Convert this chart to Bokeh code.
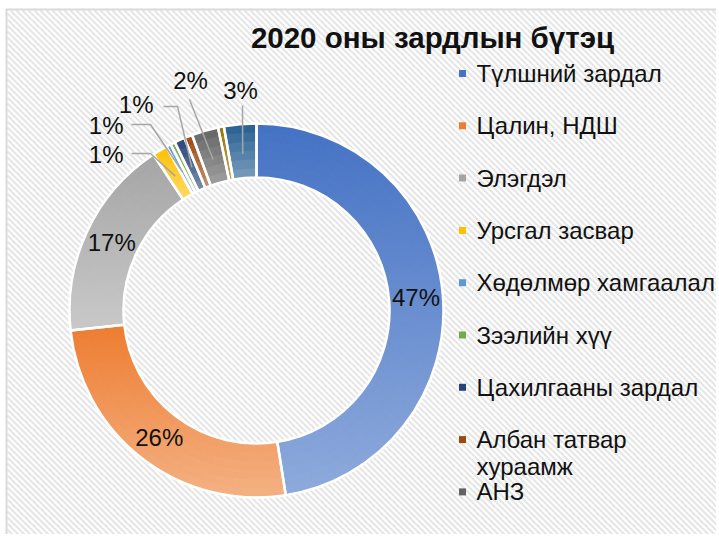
import numpy as np
from bokeh.plotting import figure
from bokeh.models import Range1d
from bokeh.core.properties import value
from bokeh.embed import file_html
from bokeh.resources import INLINE

# ---------------- data ----------------
TITLE = "2020 оны зардлын бүтэц"
categories = ["Түлшний зардал", "Цалин, НДШ", "Элэгдэл", "Урсгал засвар",
              "Хөдөлмөр хамгаалал", "Зээлийн хүү", "Цахилгааны зардал",
              "Албан татвар хураамж", "АНЗ", "", ""]
values = [47.5, 25.8, 17.4, 1.3, 0.4, 0.4, 0.9, 0.7, 2.3, 0.5, 2.8]
labels = ["47%", "26%", "17%", "1%", "1%", "", "1%", "", "2%", "", "3%"]
colors = ["#4472C4", "#ED7D31", "#A5A5A5", "#FFC000", "#5B9BD5", "#70AD47",
          "#264478", "#9E480E", "#636363", "#997300", "#255E91"]
LEGEND_SHOWN = 9

# ---------------- layout (reference pixel coords, origin top-left) ----------------
W, H = 716, 534
def Y(py):
    return 537 - py

CX, CY = 256, 310
R_OUT, R_IN = 187, 133
FONT = "Liberation Sans"

p = figure(width=W, height=H, output_backend="svg", toolbar_location=None,
           x_range=Range1d(0, W), y_range=Range1d(Y(H), Y(0)),
           min_border=0, outline_line_color=None)
p.axis.visible = False
p.grid.visible = False
p.background_fill_color = "white"
p.border_fill_color = "white"

# striped chart-area background ("\" stripes) and its frame
BX0, BY0 = 7, 10
sx0, sy0, sx1, sy1 = [], [], [], []
for c in np.arange(-H, W + 1, 6.0):
    py_a = max(BY0, BX0 - c)
    py_b = min(H, W - c)
    if py_a < py_b:
        sx0.append(c + py_a); sy0.append(Y(py_a))
        sx1.append(c + py_b); sy1.append(Y(py_b))
p.segment(x0=sx0, y0=sy0, x1=sx1, y1=sy1, line_color="#e6e6e6", line_width=2.2)
p.segment(x0=[BX0 - 1, BX0 - 2], y0=[Y(BY0 - 1), Y(BY0 - 1)], x1=[BX0 - 1, W],
          y1=[Y(H), Y(BY0 - 1)], line_color="#d9d9d9", line_width=2)

# ---------------- donut ----------------
vals = np.array(values, dtype=float)
fr = vals / vals.sum()
cum = np.concatenate([[0.0], np.cumsum(fr)])
t_start = cum[:-1] * 360.0
t_end = cum[1:] * 360.0

def hex2rgb(h):
    h = h.lstrip("#")
    return np.array([int(h[i:i + 2], 16) for i in (0, 2, 4)], dtype=float)

def rgb2hex(c):
    c = np.clip(np.round(c), 0, 255).astype(int)
    return "#%02x%02x%02x" % tuple(c)

def phi(theta_deg):
    return np.pi / 2 - np.radians(theta_deg)

wx, wy, wir, wor, wsa, wea, wcol = [], [], [], [], [], [], []
N_RAD = 6
for i in range(len(vals)):
    t0, t1 = t_start[i], t_end[i]
    samp = np.linspace(t0, t1, 200)
    ys = np.concatenate([CY - R_IN * np.cos(np.radians(samp)), CY - R_OUT * np.cos(np.radians(samp))])
    top, bot = ys.min(), ys.max()
    span_y = max(bot - top, 1e-6)
    base = hex2rgb(colors[i])
    n_ang = max(1, int(np.ceil((t1 - t0) / 1.5)))
    aedges = np.linspace(t0, t1, n_ang + 1)
    redges = np.linspace(R_IN, R_OUT, N_RAD + 1)
    for a in range(n_ang):
        for r in range(N_RAD):
            tm = 0.5 * (aedges[a] + aedges[a + 1])
            rm = 0.5 * (redges[r] + redges[r + 1])
            ym = CY - rm * np.cos(np.radians(tm))
            f = (ym - top) / span_y
            col = base * (1 - 0.4 * f) + 255 * 0.4 * f
            a_end = min(aedges[a + 1] + 0.35, t1)
            wx.append(CX); wy.append(Y(CY))
            wir.append(redges[r]); wor.append(min(redges[r + 1] + 0.7, R_OUT))
            wsa.append(phi(a_end)); wea.append(phi(aedges[a]))
            wcol.append(rgb2hex(col))

p.annular_wedge(x=wx, y=wy, inner_radius=wir, outer_radius=wor,
                start_angle=wsa, end_angle=wea, fill_color=wcol, line_color=None)
# white separators / outline
p.annular_wedge(x=[CX] * len(vals), y=[Y(CY)] * len(vals), inner_radius=R_IN, outer_radius=R_OUT,
                start_angle=list(phi(t_end)), end_angle=list(phi(t_start)),
                fill_color=None, line_color="white", line_width=2.5)

# ---------------- data labels ----------------
t_mid = 0.5 * (t_start + t_end)
R_MID = 0.5 * (R_IN + R_OUT)
in_x, in_y, in_t = [], [], []
for i in range(3):
    in_x.append(CX + R_MID * np.sin(np.radians(t_mid[i])))
    in_y.append(Y(CY - R_MID * np.cos(np.radians(t_mid[i]))))
    in_t.append(labels[i])
p.text(x=in_x, y=in_y, text=in_t, text_font=value(FONT), text_font_size="24px",
       text_align="center", text_baseline="middle", text_color="#111111")

OUT = {
    3: dict(tx=123, ty=154, align="right", path=[(131, 153), (150, 153)]),
    4: dict(tx=123, ty=125, align="right", path=[(131, 124), (150, 124)]),
    6: dict(tx=153, ty=104, align="right", path=[(163, 106), (177, 106)]),
    8: dict(tx=190, ty=80, align="center", path=[(189, 99)]),
    10: dict(tx=240, ty=90, align="center", path=[(242, 105)]),
}
lx, ly = [], []
for i, d in OUT.items():
    R_L = 157
    ex = CX + R_L * np.sin(np.radians(t_mid[i]))
    ey = CY - R_L * np.cos(np.radians(t_mid[i]))
    pts = d["path"] + [(ex, ey)]
    lx.append([q[0] for q in pts])
    ly.append([Y(q[1]) for q in pts])
    p.text(x=[d["tx"]], y=[Y(d["ty"])], text=[labels[i]], text_font=value(FONT),
           text_font_size="24px", text_align=d["align"], text_baseline="middle",
           text_color="#111111")
p.multi_line(xs=lx, ys=ly, line_color="#a6a6a6", line_width=1.5)

# ---------------- title ----------------
p.text(x=[432], y=[Y(37)], text=[TITLE], text_font=value(FONT), text_font_size="29.5px",
       text_font_style="bold", text_align="center", text_baseline="middle", text_color="#111111")

# ---------------- legend ----------------
LEG_MX, LEG_TX, LEG_Y0, LEG_DY, LINE_H = 462, 476, 73, 52.3, 27
mk_x, mk_y, mk_c = [], [], []
tx, ty, tt = [], [], []
for i in range(LEGEND_SHOWN):
    yy = LEG_Y0 + LEG_DY * i
    mk_x.append(LEG_MX); mk_y.append(Y(yy)); mk_c.append(colors[i])
    name = categories[i]
    lines = [name]
    if len(name) > 19:
        cut = name.rfind(" ", 0, 19)
        lines = [name[:cut], name[cut + 1:]]
    for k, ln in enumerate(lines):
        tx.append(LEG_TX); ty.append(Y(yy + k * LINE_H)); tt.append(ln)
p.scatter(x=mk_x, y=mk_y, marker="square", size=7, fill_color=mk_c, line_color=None)
p.text(x=tx, y=ty, text=tt, text_font=value(FONT), text_font_size="24px",
       text_align="left", text_baseline="middle", text_color="#111111")

open("out.html", "w").write(file_html(p, INLINE))
